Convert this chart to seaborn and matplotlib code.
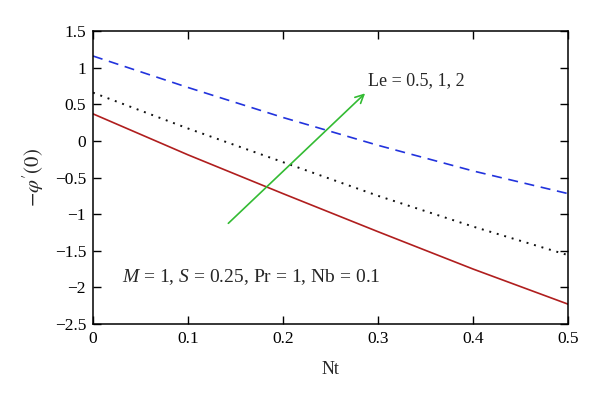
import matplotlib
matplotlib.use("Agg")
import matplotlib.pyplot as plt
import seaborn as sns
import pandas as pd

# Curves of -phi'(0) against Nt for Le = 0.5, 1, 2
nt = [0.0, 0.1, 0.2, 0.3, 0.4, 0.5]
le_05 = [0.37, -0.19, -0.72, -1.24, -1.75, -2.23]
le_1 = [0.66, 0.17, -0.29, -0.75, -1.17, -1.56]
le_2 = [1.16, 0.73, 0.32, -0.06, -0.41, -0.72]

x_ticks = [0, 0.1, 0.2, 0.3, 0.4, 0.5]
y_ticks = [-2.5, -2, -1.5, -1, -0.5, 0, 0.5, 1, 1.5]

sns.set_theme(style="ticks")
plt.rcParams["font.family"] = ["Liberation Serif", "DejaVu Serif"]
plt.rcParams["mathtext.fontset"] = "custom"
plt.rcParams["mathtext.rm"] = "Liberation Serif"
plt.rcParams["mathtext.it"] = "Liberation Serif:italic"

df = pd.DataFrame({"Nt": nt, "a": le_05, "b": le_1, "c": le_2})

fig, ax = plt.subplots(figsize=(6.0, 3.99), dpi=100)
fig.subplots_adjust(left=0.155, right=0.947, top=0.922, bottom=0.188)

sns.lineplot(data=df, x="Nt", y="a", ax=ax, color="#b01e1e", linewidth=1.2)
sns.lineplot(data=df, x="Nt", y="b", ax=ax, color="#111111", linewidth=1.4,
             linestyle=(0, (1, 3)))
sns.lineplot(data=df, x="Nt", y="c", ax=ax, color="#2233dd", linewidth=1.2,
             linestyle=(0, (6, 4)))

ax.annotate("", xy=(0.2863, 0.65), xytext=(0.1424, -1.125),
            arrowprops=dict(arrowstyle="->", color="#33bb33", lw=1.2,
                            mutation_scale=15, shrinkA=0, shrinkB=0))
ax.text(0.289, 0.83, "Le = 0.5, 1, 2", fontsize=13, va="center", ha="left")
ax.text(0.03, -1.86, r"$M$ = 1, $S$ = 0.25, Pr = 1, Nb = 0.1", fontsize=14,
        va="center", ha="left")

ax.set_xlim(0, 0.5)
ax.set_ylim(-2.5, 1.5)
ax.set_xticks(x_ticks)
ax.set_xticklabels([f"{t:g}" for t in x_ticks])
ax.set_yticks(y_ticks)
ax.set_yticklabels([f"{t:g}".replace("-", "\u2212") for t in y_ticks])
ax.tick_params(direction="in", length=6, width=1, top=True, right=True,
               labelsize=12.5, color="black", labelcolor="black", pad=5)
for s in ax.spines.values():
    s.set_color("black")
    s.set_linewidth(1.1)

ax.set_xlabel("Nt", fontsize=13, labelpad=10)
ax.set_ylabel(r"$-\varphi^{\prime}(0)$", fontsize=15, labelpad=6,
              math_fontfamily="stix")

fig.savefig("out.png", dpi=100)
